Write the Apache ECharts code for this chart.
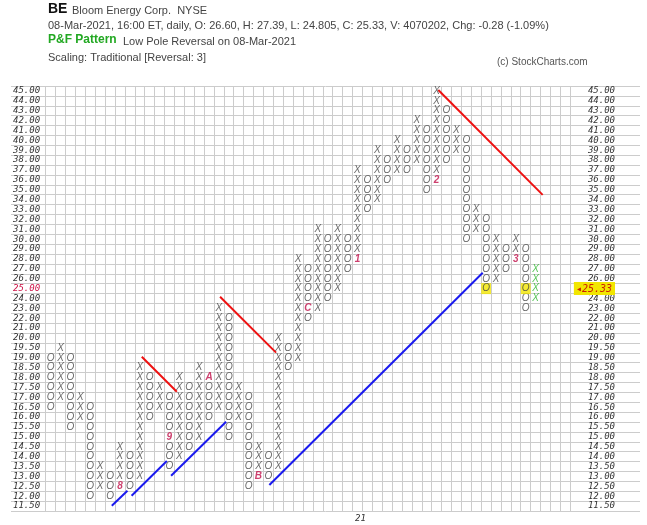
<!DOCTYPE html>
<html>
<head>
<meta charset="utf-8">
<script src="https://cdn.jsdelivr.net/npm/echarts@6/dist/echarts.min.js"></script>
<style>html,body{margin:0;padding:0;background:#fff}#c{width:647px;height:525px}</style>
</head>
<body>
<div id="c"></div>
<script>
// box labels, bottom to top (0.5 boxes under 20, 1.0 boxes above)
var priceLabels = ['11.50','12.00','12.50','13.00','13.50','14.00','14.50','15.00','15.50','16.00','16.50','17.00','17.50','18.00','18.50','19.00','19.50',
  '20.00','21.00','22.00','23.00','24.00','25.00','26.00','27.00','28.00','29.00','30.00','31.00','32.00','33.00','34.00','35.00','36.00','37.00','38.00','39.00','40.00','41.00','42.00','43.00','44.00','45.00'];

// P&F columns, left to right
var colType = 'OXOXOXOXOXOXOXOXOXOXOXOXOXOXOXOXOXOXOXOXOXOXOXOXOX'.split('');
var colLow  = [16.5,17,15.5,16,12,12.5,12,12.5,12.5,13,16,16.5,13.5,14,14.5,15,16,16.5,15,16,12.5,13,13,13.5,18.5,
               19,22,23,24,25,27,28,33,34,36,37,37,38,35,36,38,39,30,31,25,26,27,28,23,24];
var colHigh = [19,19.5,19,17,16.5,13.5,13,14.5,14,18.5,18,17.5,17,18,17.5,18.5,18,23,22,17.5,17,14.5,14,20,19.5,
               28,27,31,30,31,30,37,36,39,38,40,39,42,41,45,43,41,40,33,32,30,29,30,29,27];

// month markers: [column, price, text]
var monthMarks = [[8,12.5,'8'],[13,15,'9'],[17,18,'A'],[22,13,'B'],[27,23,'C'],[32,28,'1'],[40,36,'2'],[48,28,'3']];
var yellowBoxes = [[45,25],[49,25]];
var greenCol = 50;

// trend lines in box units [col, row]
var redLines  = [[[9.71,15.61],[13.25,12.07]],[[17.62,21.68],[23.28,16.02]],[[39.67,42.6],[50.22,31.98]]];
var blueLines = [[[6.68,0.53],[8.26,2.05]],[[8.68,1.54],[12.24,5.05]],[[12.67,3.57],[18.23,9.03]],[[22.6,2.63],[44.16,24.11]]];

var lastClose = '25.33';
var nCols = 53;

function rowOf(p) { return p < 20 ? (p - 11.5) / 0.5 : 17 + (p - 20); }
function isIn(list, c, p) { return list.some(function (m) { return m[0] === c && m[1] === p; }); }

var xs = [], os = [], greens = [], yel = [], marks = [];
colType.forEach(function (t, i) {
  var c = i + 1;
  for (var r = rowOf(colLow[i]); r <= rowOf(colHigh[i]) + 1e-6; r++) {
    var p = r < 17 ? 11.5 + r * 0.5 : 20 + (r - 17);
    var pt = [c - 0.5, r + 0.5];
    if (monthMarks.some(function (m) { return m[0] === c && Math.abs(m[1] - p) < 1e-6; })) continue;
    if (isIn(yellowBoxes, c, p)) { yel.push(pt); continue; }
    if (c === greenCol) { greens.push(pt); continue; }
    (t === 'X' ? xs : os).push(pt);
  }
});
monthMarks.forEach(function (m) { marks.push({ value: [m[0] - 0.5, rowOf(m[1]) + 0.5], txt: m[2] }); });

var glyph = { fontFamily: 'Liberation Sans', fontStyle: 'italic', fontSize: 10 };
function boxSeries(data, text, color, extra) {
  return {
    type: 'scatter', xAxisIndex: 1, yAxisIndex: 2, data: data, symbolSize: 1,
    itemStyle: { color: 'rgba(0,0,0,0)' }, silent: true, z: 5,
    label: Object.assign({ show: true, position: 'inside', color: color,
      formatter: typeof text === 'function' ? text : function () { return text; } }, glyph, extra || {})
  };
}

var series = [
  boxSeries(xs, 'X', '#444'),
  boxSeries(os, 'O', '#444'),
  boxSeries(greens, 'X', '#2bb52b'),
  boxSeries(yel, 'O', '#444', { backgroundColor: '#f2e600', padding: [1, 1, 0, 1] }),
  boxSeries(marks, function (p) { return p.data.txt; }, '#c0104a', { fontWeight: 'bold' })
];
redLines.concat(blueLines).forEach(function (seg, i) {
  series.push({
    type: 'line', xAxisIndex: 1, yAxisIndex: 2, data: seg, symbol: 'none', silent: true, z: 4,
    lineStyle: { color: i < redLines.length ? '#ee1111' : '#1a1aee', width: 2 }
  });
});

var lblFont = { fontFamily: 'DejaVu Sans Mono', fontStyle: 'italic', fontSize: 9, color: '#333' };
var redIdx = priceLabels.indexOf('25.00');

var chart = echarts.init(document.getElementById('c'));
chart.setOption({
  animation: false,
  grid: [
    { left: 11, right: 7, top: 86, height: 425, show: false },
    { left: 45.7, width: 524.5, top: 86, height: 425, show: false }
  ],
  xAxis: [
    { gridIndex: 0, type: 'value', min: 0, max: 1, show: false },
    { gridIndex: 1, type: 'value', min: 0, max: nCols, interval: 1,
      axisLine: { show: false }, axisTick: { show: false }, axisLabel: { show: false },
      splitLine: { show: true, lineStyle: { color: '#cccccc', width: 1 } } }
  ],
  yAxis: [
    { gridIndex: 0, type: 'category', data: priceLabels, position: 'left',
      axisLine: { show: false }, axisTick: { show: false },
      splitLine: { show: true, lineStyle: { color: '#cccccc', width: 1 } },
      axisLabel: Object.assign({ inside: true, margin: 2, interval: 0,
        formatter: function (v, i) { return i === redIdx ? '{r|' + v + '}' : v; },
        rich: { r: Object.assign({}, lblFont, { color: '#cc1144' }) } }, lblFont) },
    { gridIndex: 0, type: 'category', data: priceLabels, position: 'right',
      axisLine: { show: false }, axisTick: { show: false }, splitLine: { show: false },
      axisLabel: Object.assign({ inside: true, margin: 25, interval: 0,
        formatter: function (v, i) { return i === redIdx ? '{h|\u25C2' + lastClose + '}' : v; },
        rich: { h: Object.assign({}, lblFont, { color: '#cc2200', backgroundColor: '#f2e600', padding: [2, 3, 1, 2], fontSize: 10 }) } }, lblFont) },
    { gridIndex: 1, type: 'value', min: 0, max: priceLabels.length, interval: 1, show: false,
      splitLine: { show: false } }
  ],
  graphic: [
    { type: 'text', left: 48, top: 2, style: { text: 'BE', font: 'bold 14px Liberation Sans', fill: '#111' } },
    { type: 'text', left: 72, top: 5, style: { text: 'Bloom Energy Corp.  NYSE', font: '11px Liberation Sans', fill: '#444' } },
    { type: 'text', left: 48, top: 20, style: { text: '08-Mar-2021, 16:00 ET, daily, O: 26.60, H: 27.39, L: 24.805, C: 25.33, V: 4070202, Chg: -0.28 (-1.09%)', font: '11px Liberation Sans', fill: '#444' } },
    { type: 'text', left: 48, top: 34, style: { text: 'P&F Pattern', font: 'bold 12px Liberation Sans', fill: '#22a822' } },
    { type: 'text', left: 123, top: 36, style: { text: 'Low Pole Reversal on 08-Mar-2021', font: '11px Liberation Sans', fill: '#444' } },
    { type: 'text', left: 48, top: 52, style: { text: 'Scaling: Traditional [Reversal: 3]', font: '11px Liberation Sans', fill: '#444' } },
    { type: 'text', left: 497, top: 57, style: { text: '(c) StockCharts.com', font: '10px Liberation Sans', fill: '#555' } },
    { type: 'text', left: 355, top: 514, style: { text: '21', font: 'italic 9px DejaVu Sans Mono', fill: '#333' } }
  ],
  series: series
});
</script>
</body>
</html>
